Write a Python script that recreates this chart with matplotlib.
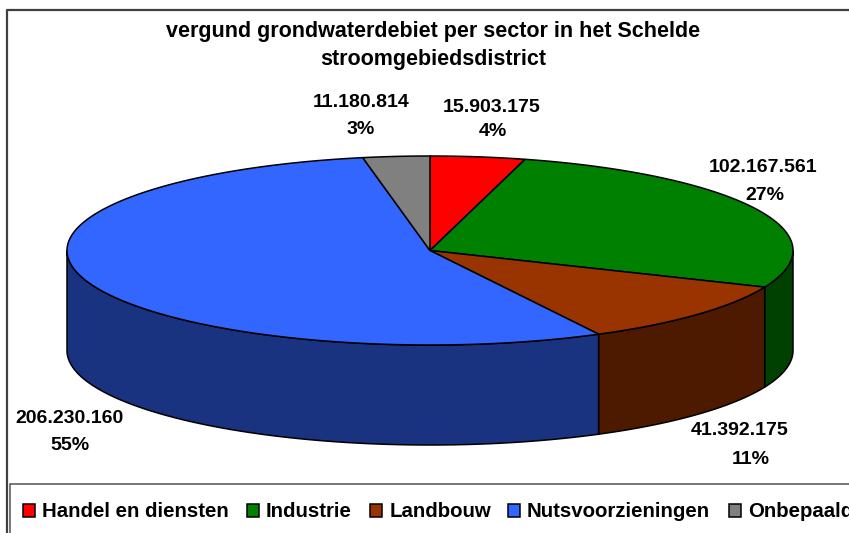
"""
3D looking pie of groundwater flow per sector, drawn with plain polygons
"""
import numpy as np
import matplotlib
matplotlib.use('Agg')
import matplotlib.pyplot as plt
from matplotlib.patches import Polygon, Rectangle

plt.rcParams['font.family'] = ['Liberation Sans', 'DejaVu Sans']

SECTORS = ['Handel en diensten', 'Industrie', 'Landbouw', 'Nutsvoorzieningen', 'Onbepaald']
VALUES = [15903175, 102167561, 41392175, 206230160, 11180814]
COLORS = ['#FF0000', '#008000', '#993300', '#3366FF', '#808080']
SIDE_COLORS = ['#800000', '#004000', '#4D1A00', '#1A3380', '#404040']
TITLE = 'vergund grondwaterdebiet per sector in het Schelde\nstroomgebiedsdistrict'

# pixel layout of the picture
CX, CY, RX, RY, DEPTH = 430, 250.5, 363, 94.5, 100
VALUE_POS = [(492, 107.5), (763, 167.5), (740, 430.5), (70, 418.5), (361, 102.5)]
PERCENT_POS = [(493, 131), (765, 196), (751, 459), (70, 445), (361, 129)]
LEGEND_BOX = [(23, 42), (247, 266), (370, 390), (508, 527), (729, 748)]


def rim(a0, a1):
    """ Points on the top ellipse, angles in degree, clockwise from the top """
    theta = np.radians(np.linspace(a0, a1, max(int(a1 - a0) * 2, 2) + 1))
    return np.column_stack([CX + RX * np.sin(theta), CY - RY * np.cos(theta)])


fig = plt.figure(figsize=(8.49, 5.33), dpi=100)
ax = fig.add_axes([0, 0, 1, 1])
ax.set_xlim(0, 849)
ax.set_ylim(533, 0)
ax.axis('off')

# chart frame
ax.plot([7.5, 7.5, 849], [533, 10, 10], color='#404040', lw=1.6)

total = sum(VALUES)
edges = np.concatenate([[0], np.cumsum(VALUES) / total * 360])

# side walls, only the front half of the cylinder can be seen
for a0, a1, side in zip(edges[:-1], edges[1:], SIDE_COLORS):
    lo, hi = max(a0, 90), min(a1, 270)
    if lo >= hi:
        continue
    top = rim(lo, hi)
    bottom = (top + [0, DEPTH])[::-1]
    ax.add_patch(Polygon(np.vstack([top, bottom]), fc=side, ec='black', lw=1.1))

# top faces
for a0, a1, color in zip(edges[:-1], edges[1:], COLORS):
    pts = np.vstack([[CX, CY], rim(a0, a1)])
    ax.add_patch(Polygon(pts, fc=color, ec='black', lw=1.1))

ax.text(433, 45.5, TITLE, ha='center', va='center', fontsize=15.5, fontweight='bold',
        linespacing=1.42)

for value, vpos, ppos in zip(VALUES, VALUE_POS, PERCENT_POS):
    ax.text(*vpos, f"{value:,}".replace(',', '.'), ha='center', va='center', fontsize=14,
            fontweight='bold')
    ax.text(*ppos, f"{value / total:.0%}", ha='center', va='center', fontsize=14,
            fontweight='bold')

# legend
ax.add_patch(Rectangle((10.5, 484), 860, 70, fc='white', ec='#606060', lw=1.2))
for name, color, (x_box, x_text) in zip(SECTORS, COLORS, LEGEND_BOX):
    ax.add_patch(Rectangle((x_box, 504), 12.5, 13, fc=color, ec='black', lw=1.1))
    ax.text(x_text, 511.5, name, ha='left', va='center', fontsize=14.7, fontweight='bold')

fig.savefig('out.png', dpi=100)
